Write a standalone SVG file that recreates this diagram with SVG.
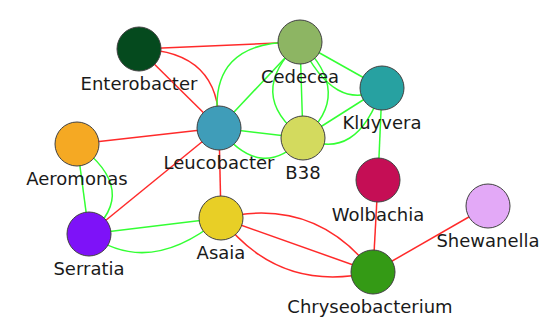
<svg xmlns="http://www.w3.org/2000/svg" width="557" height="321" viewBox="0 0 557 321">
<style>
.r{stroke:#ff2a2a;stroke-width:1.5;fill:none}
.g{stroke:#33ff33;stroke-width:1.5;fill:none}
.n circle{stroke:#404040;stroke-width:1}
.n text{font-family:"DejaVu Sans","Liberation Sans",sans-serif;font-size:18px;fill:#1a1a1a;text-anchor:middle}
</style>
<rect width="557" height="321" fill="#ffffff"/>
<g id="edges">
<path class="r" d="M139,49 L300,42"/>
<path class="r" d="M139,49 L219,128"/>
<path class="r" d="M139,49 Q221,51 219,128"/>
<path class="r" d="M219,128 L77,144"/>
<path class="r" d="M219,128 L89,234"/>
<path class="r" d="M219,128 L221,218"/>
<path class="r" d="M221,218 L373,272"/>
<path class="r" d="M221,218 Q315,196 373,272"/>
<path class="r" d="M221,218 Q279,294 373,272"/>
<path class="r" d="M378,180 L373,272"/>
<path class="r" d="M488,206 L373,272"/>
<path class="g" d="M219,128 L300,42"/>
<path class="g" d="M219,128 Q204,39 300,42"/>
<path class="g" d="M219,128 L303,138"/>
<path class="g" d="M219,128 Q261,183 303,138"/>
<path class="g" d="M300,42 L303,138"/>
<path class="g" d="M300,42 Q244,94 303,138"/>
<path class="g" d="M300,42 Q355,94 303,138"/>
<path class="g" d="M300,42 L382,88"/>
<path class="g" d="M300,42 Q335,115 382,88"/>
<path class="g" d="M303,138 L382,88"/>
<path class="g" d="M303,138 Q357,163 382,88"/>
<path class="g" d="M382,88 L378,180"/>
<path class="g" d="M77,144 L89,234"/>
<path class="g" d="M77,144 Q141,191 89,234"/>
<path class="g" d="M89,234 L221,218"/>
<path class="g" d="M89,234 Q149,278 221,218"/>
</g>
<g id="Enterobacter" class="n"><circle cx="139" cy="49" r="22" fill="#054a1e"/><text x="139" y="90">Enterobacter</text></g>
<g id="Cedecea" class="n"><circle cx="300" cy="42" r="22" fill="#8db563"/><text x="300" y="83">Cedecea</text></g>
<g id="Kluyvera" class="n"><circle cx="382" cy="88" r="22" fill="#27a1a1"/><text x="382" y="129">Kluyvera</text></g>
<g id="Leucobacter" class="n"><circle cx="219" cy="128" r="22" fill="#3f9db9"/><text x="219" y="169">Leucobacter</text></g>
<g id="B38" class="n"><circle cx="303" cy="138" r="22" fill="#d3da5e"/><text x="303" y="179">B38</text></g>
<g id="Aeromonas" class="n"><circle cx="77" cy="144" r="22" fill="#f5a923"/><text x="77" y="185">Aeromonas</text></g>
<g id="Serratia" class="n"><circle cx="89" cy="234" r="22" fill="#7e12f8"/><text x="89" y="275">Serratia</text></g>
<g id="Asaia" class="n"><circle cx="221" cy="218" r="22" fill="#e8cf26"/><text x="221" y="259">Asaia</text></g>
<g id="Wolbachia" class="n"><circle cx="378" cy="180" r="22" fill="#c50e55"/><text x="378" y="221">Wolbachia</text></g>
<g id="Shewanella" class="n"><circle cx="488" cy="206" r="22" fill="#e3a9f7"/><text x="488" y="247">Shewanella</text></g>
<g id="Chryseobacterium" class="n"><circle cx="373" cy="272" r="22" fill="#349a15"/><text x="370" y="313">Chryseobacterium</text></g>
</svg>
